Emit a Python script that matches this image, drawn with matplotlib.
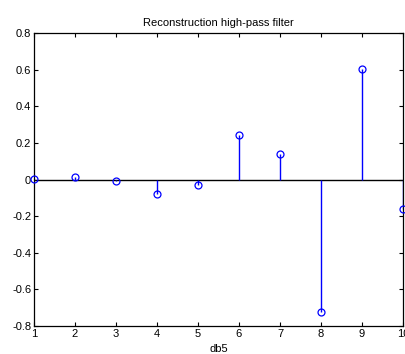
import matplotlib
matplotlib.use("Agg")
import matplotlib.pyplot as plt

plt.rcParams['font.family'] = ['Liberation Sans', 'DejaVu Sans']

x = [1, 2, 3, 4, 5, 6, 7, 8, 9, 10]
coef = [0.0033, 0.0126, -0.0062, -0.0776, -0.0322, 0.2423, 0.1384, -0.7243, 0.6038, -0.1601]
xticks = [1, 2, 3, 4, 5, 6, 7, 8, 9, 10]
yticks = [-0.8, -0.6, -0.4, -0.2, 0, 0.2, 0.4, 0.6, 0.8]
ytick_labels = ['-0.8', '-0.6', '-0.4', '-0.2', '0', '0.2', '0.4', '0.6', '0.8']

fig = plt.figure(figsize=(4.06, 3.54), dpi=100)
ax = fig.add_axes([0.0837, 0.079, 0.9089, 0.8278])

ax.axhline(0, color='black', lw=1, zorder=1)
ax.vlines(x, 0, coef, color='blue', lw=1, zorder=2)
ax.plot(x, coef, 'o', mfc='none', mec='blue', ms=5, mew=0.9, clip_on=False, zorder=3)

ax.set_xlim(1, 10)
ax.set_ylim(-0.8, 0.8)
ax.set_xticks(xticks)
ax.set_yticks(yticks)
ax.set_yticklabels(ytick_labels)
ax.tick_params(direction='in', top=True, right=True, labelsize=8, length=3, width=0.8, pad=2)
for s in ax.spines.values():
    s.set_linewidth(0.9)
ax.set_title('Reconstruction high-pass filter', fontsize=8, pad=5)
ax.set_xlabel('db5', fontsize=8, labelpad=4)

fig.savefig('out.png', dpi=100)
